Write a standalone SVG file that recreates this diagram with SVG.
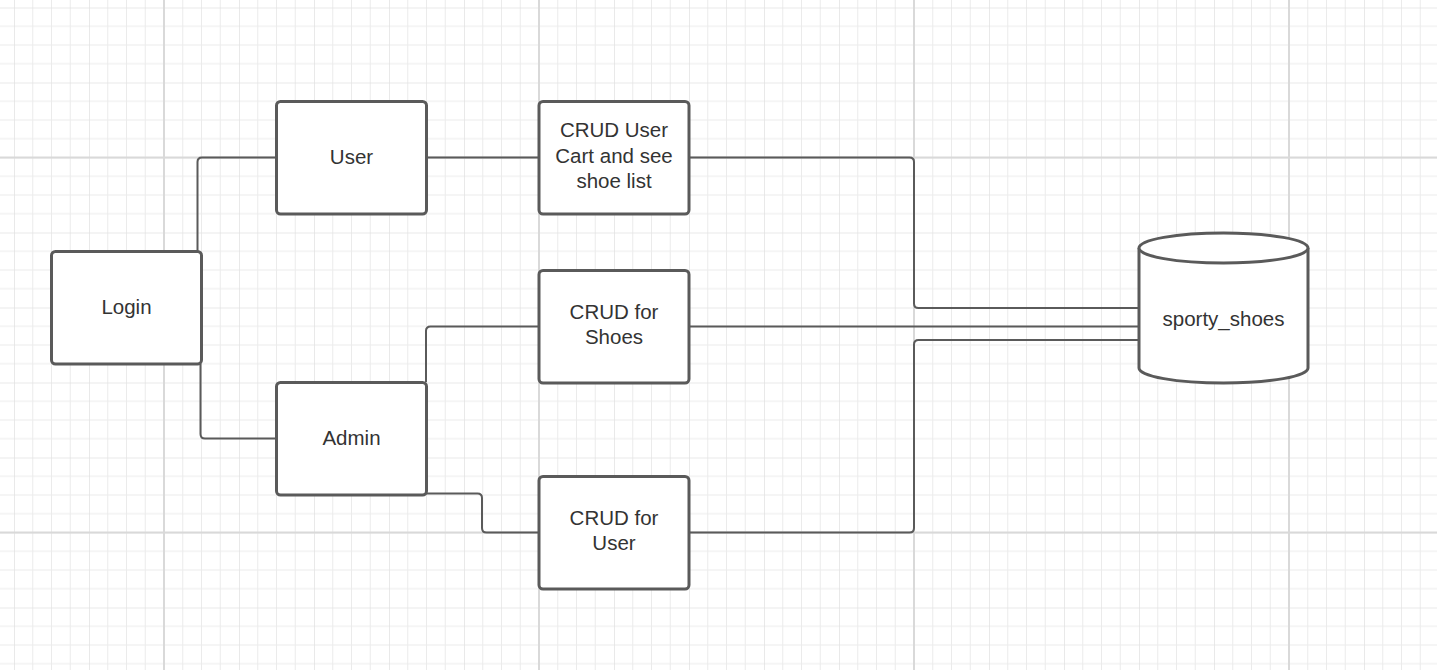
<svg xmlns="http://www.w3.org/2000/svg" width="1437" height="670" viewBox="0 0 1437 670">
<style>
.node{fill:#ffffff;stroke:#5a5a5a;stroke-width:3}
.conn{fill:none;stroke:#5a5a5a;stroke-width:2}
.lbl{font-family:"Liberation Sans",Arial,sans-serif;font-size:20.5px;fill:#333333;text-anchor:middle}
.minor{stroke:#ebebeb;stroke-width:1}
.medium{stroke:#e2e2e2;stroke-width:1.5}
.major{stroke:#d9d9d9;stroke-width:2}
</style>
<defs>
<pattern id="grid" patternUnits="userSpaceOnUse" x="14" y="7.5" width="75" height="75">
<line class="minor" x1="18.75" y1="0" x2="18.75" y2="75"/>
<line class="minor" x1="37.5" y1="0" x2="37.5" y2="75"/>
<line class="minor" x1="56.25" y1="0" x2="56.25" y2="75"/>
<line class="minor" x1="0" y1="18.75" x2="75" y2="18.75"/>
<line class="minor" x1="0" y1="37.5" x2="75" y2="37.5"/>
<line class="minor" x1="0" y1="56.25" x2="75" y2="56.25"/>
<line class="medium" x1="0" y1="0" x2="0" y2="75"/>
<line class="medium" x1="0" y1="0" x2="75" y2="0"/>
</pattern>
</defs>
<rect x="0" y="0" width="1437" height="670" fill="#ffffff"/>
<rect x="0" y="0" width="1437" height="670" fill="url(#grid)"/>
<g id="major-grid">
<line class="major" x1="164" y1="0" x2="164" y2="670"/>
<line class="major" x1="539" y1="0" x2="539" y2="670"/>
<line class="major" x1="914" y1="0" x2="914" y2="670"/>
<line class="major" x1="1289" y1="0" x2="1289" y2="670"/>
<line class="major" x1="0" y1="157.5" x2="1437" y2="157.5"/>
<line class="major" x1="0" y1="532.5" x2="1437" y2="532.5"/>
</g>
<g id="connectors">
<path class="conn" d="M197.5,252 L197.5,162 Q197.5,157.5 202,157.5 L276,157.5"/>
<path class="conn" d="M200.5,364 L200.5,434 Q200.5,438.5 205,438.5 L276,438.5"/>
<path class="conn" d="M426,157.5 L539,157.5"/>
<path class="conn" d="M689,157.5 L909.5,157.5 Q914,157.5 914,162 L914,303.5 Q914,308 918.5,308 L1139,308"/>
<path class="conn" d="M426,382 L426,331 Q426,326.5 430.5,326.5 L539,326.5"/>
<path class="conn" d="M689,326.5 L1139,326.5"/>
<path class="conn" d="M426,493.5 L477.5,493.5 Q482,493.5 482,498 L482,528 Q482,532.5 486.5,532.5 L539,532.5"/>
<path class="conn" d="M689,532.5 L909.5,532.5 Q914,532.5 914,528 L914,344.5 Q914,340 918.5,340 L1139,340"/>
</g>
<g id="node-login">
<rect class="node" x="51.5" y="251.5" width="150" height="112.5" rx="4"/>
<text class="lbl" x="126.5" y="314">Login</text>
</g>
<g id="node-user">
<rect class="node" x="276.5" y="101.5" width="150" height="112.5" rx="4"/>
<text class="lbl" x="351.5" y="164">User</text>
</g>
<g id="node-admin">
<rect class="node" x="276.5" y="382.5" width="150" height="112.5" rx="4"/>
<text class="lbl" x="351.5" y="445">Admin</text>
</g>
<g id="node-crud-cart">
<rect class="node" x="539" y="101.5" width="150" height="112.5" rx="4"/>
<text class="lbl" x="614" y="137">CRUD User</text>
<text class="lbl" x="614" y="163">Cart and see</text>
<text class="lbl" x="614" y="188">shoe list</text>
</g>
<g id="node-crud-shoes">
<rect class="node" x="539" y="270.5" width="150" height="112.5" rx="4"/>
<text class="lbl" x="614" y="319">CRUD for</text>
<text class="lbl" x="614" y="344">Shoes</text>
</g>
<g id="node-crud-user">
<rect class="node" x="539" y="476.5" width="150" height="112.5" rx="4"/>
<text class="lbl" x="614" y="525">CRUD for</text>
<text class="lbl" x="614" y="550">User</text>
</g>
<g id="node-db">
<path class="node" d="M1139,248 A84.5,15 0 0 1 1308,248 L1308,368 A84.5,15 0 0 1 1139,368 Z"/>
<path class="node" fill="none" d="M1139,248 A84.5,15 0 0 0 1308,248"/>
<text class="lbl" x="1223.5" y="326">sporty_shoes</text>
</g>
</svg>
